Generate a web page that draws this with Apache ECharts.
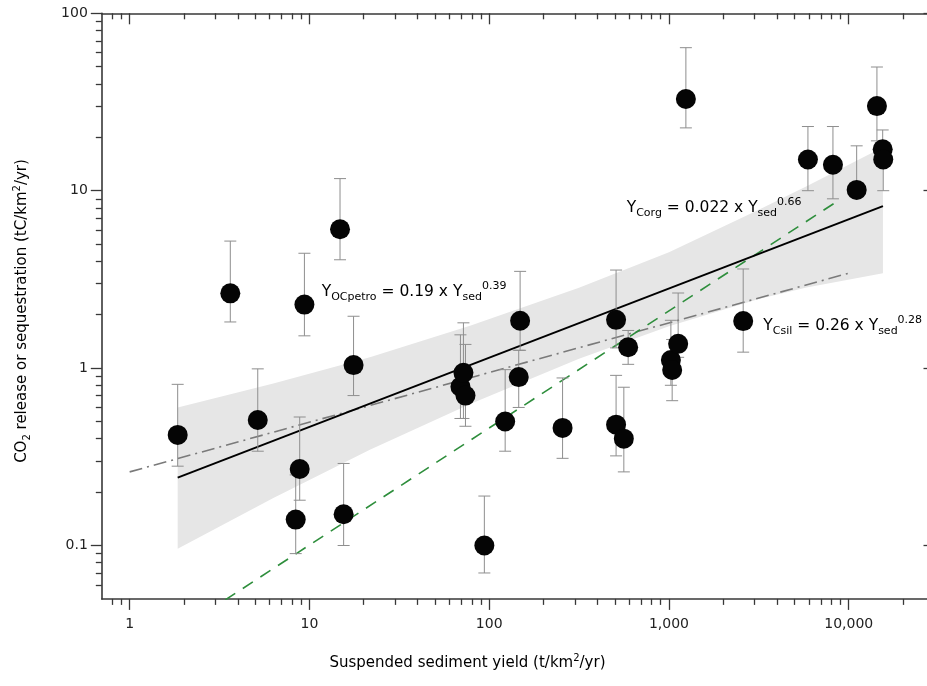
<!DOCTYPE html>
<html>
<head>
<meta charset="utf-8">
<title>CO2 release or sequestration vs suspended sediment yield</title>
<script src="https://cdn.jsdelivr.net/npm/echarts@6/dist/echarts.min.js"></script>
<style>
  html, body { margin: 0; padding: 0; background: #fff; }
  #chart { width: 927px; height: 686px; }
</style>
</head>
<body>
<div id="chart"></div>
<script>
// Catchments: suspended sediment yield (t/km2/yr) and CO2 flux (tC/km2/yr) with uncertainty range
const sedimentYield = [1.85, 3.63, 5.16, 8.39, 8.83, 9.38, 14.8, 15.5, 17.6, 69.2, 71.9, 73.8, 94, 122.7, 146, 148.6,
  256, 508, 508, 561, 593, 1025, 1042, 1125, 1242, 2588, 5930, 8170, 11070, 14350, 15450, 15560];
const co2Flux = [0.42, 2.64, 0.51, 0.14, 0.27, 2.28, 6.06, 0.15, 1.04, 0.785, 0.94, 0.70, 0.10, 0.50, 0.89, 1.85,
  0.46, 0.48, 1.87, 0.40, 1.31, 1.11, 0.975, 1.37, 32.9, 1.84, 15.0, 14.0, 10.1, 30.0, 17.1, 15.0];
const co2Low = [0.28, 1.82, 0.34, 0.09, 0.18, 1.52, 4.08, 0.10, 0.70, 0.52, 0.52, 0.47, 0.07, 0.34, 0.60, 1.26,
  0.31, 0.32, 1.30, 0.26, 1.05, 0.80, 0.655, 1.15, 22.6, 1.23, 10.0, 9.0, 9.2, 19.1, 14.0, 10.0];
const co2High = [0.81, 5.2, 0.99, 0.25, 0.53, 4.44, 11.7, 0.29, 1.96, 1.54, 1.80, 1.36, 0.19, 0.98, 1.26, 3.51,
  0.88, 0.91, 3.57, 0.78, 1.63, 1.86, 1.45, 2.65, 64, 3.62, 23, 23, 17.9, 49.8, 22.0, 17.5];

// Confidence band of the OCpetro power-law fit
const bandX = [1.85, 6.3, 21.7, 79, 316, 1000, 3160, 5830, 15500];
const bandLow = [0.096, 0.185, 0.347, 0.63, 1.13, 1.72, 2.45, 2.85, 3.42];
const bandHigh = [0.60, 0.82, 1.15, 1.74, 2.84, 4.5, 7.8, 10.6, 17.6];

// Power-law fits Y = a * Ysed^b and the sediment-yield span each one is drawn over
const fitNames = ['OCpetro', 'Corg', 'Csil'];
const fitCoef = [0.19, 0.022, 0.26];
const fitExp = [0.39, 0.66, 0.28];
const fitFrom = [1.85, 3.4, 1];
const fitTo = [15500, 9000, 10000];

// Axis ticks and labels
const xTickLabels = [1, 10, 100, 1000, 10000];
const xMinorTicks = [0.8, 0.9, 2, 3, 4, 5, 6, 7, 8, 9, 20, 30, 40, 50, 60, 70, 80, 90,
  200, 300, 400, 500, 600, 700, 800, 900, 2000, 3000, 4000, 5000, 6000, 7000, 8000, 9000, 20000];
const yTickLabels = [0.1, 1, 10, 100];
const yMinorTicks = [0.06, 0.07, 0.08, 0.09, 0.2, 0.3, 0.4, 0.5, 0.6, 0.7, 0.8, 0.9,
  2, 3, 4, 5, 6, 7, 8, 9, 20, 30, 40, 50, 60, 70, 80, 90];

const FONT = 'DejaVu Sans';
const AXIS_COLOR = '#383838';
const X_RANGE = [0.7, 30000];
const Y_RANGE = [0.05, 100];

function fitLine(i) {
  const a = fitCoef[i], b = fitExp[i];
  return [[fitFrom[i], a * Math.pow(fitFrom[i], b)], [fitTo[i], a * Math.pow(fitTo[i], b)]];
}

function fitLabel(i) {
  return '{m|Y}{s|' + fitNames[i] + '}{m| = ' + fitCoef[i] + ' x Y}{s|sed}{p|' + fitExp[i].toFixed(2) + '}';
}

function richFor(color) {
  return {
    m: { fontFamily: FONT, fontSize: 15.5, color: color, lineHeight: 22 },
    s: { fontFamily: FONT, fontSize: 11, color: color, lineHeight: 14, verticalAlign: 'bottom' },
    p: { fontFamily: FONT, fontSize: 11, color: color, lineHeight: 12, verticalAlign: 'top' }
  };
}

function makeXAxis(position, ticks, major, inside, showLine, showLabels) {
  return {
    type: 'log', logBase: 10, position: position,
    min: X_RANGE[0], max: X_RANGE[1],
    axisLine: { show: showLine, onZero: false, lineStyle: { color: AXIS_COLOR, width: 1.6 } },
    axisTick: { show: true, inside: inside, length: major ? 11 : 6, customValues: ticks,
      lineStyle: { color: AXIS_COLOR, width: 1.3 } },
    axisLabel: { show: showLabels, customValues: xTickLabels, margin: 18,
      fontFamily: FONT, fontSize: 14, color: '#222',
      formatter: v => Number(v).toLocaleString('en-US') },
    splitLine: { show: false }, minorTick: { show: false }, minorSplitLine: { show: false }
  };
}

function makeYAxis(position, ticks, major, inside, showLine, showLabels) {
  return {
    type: 'log', logBase: 10, position: position,
    min: Y_RANGE[0], max: Y_RANGE[1],
    axisLine: { show: showLine, onZero: false, lineStyle: { color: AXIS_COLOR, width: 1.6 } },
    axisTick: { show: true, inside: inside, length: major ? 11 : 6, customValues: ticks,
      lineStyle: { color: AXIS_COLOR, width: 1.3 } },
    axisLabel: { show: showLabels, customValues: yTickLabels, margin: 14,
      fontFamily: FONT, fontSize: 14, color: '#222',
      formatter: v => String(Number(v)) },
    splitLine: { show: false }, minorTick: { show: false }, minorSplitLine: { show: false }
  };
}

const chart = echarts.init(document.getElementById('chart'), null, { renderer: 'canvas' });

const option = {
  animation: false,
  backgroundColor: '#ffffff',
  grid: { left: 101.8, top: 13.3, width: 832.7, height: 585.6, containLabel: false, outerBoundsMode: 'none' },
  xAxis: [
    makeXAxis('bottom', xTickLabels, true, false, true, true),
    makeXAxis('bottom', xMinorTicks, false, false, false, false),
    makeXAxis('top', xTickLabels, true, true, true, false),
    makeXAxis('top', xMinorTicks, false, true, false, false)
  ],
  yAxis: [
    makeYAxis('left', yTickLabels, true, false, true, true),
    makeYAxis('left', yMinorTicks, false, false, false, false),
    makeYAxis('right', yTickLabels, true, true, true, false),
    makeYAxis('right', yMinorTicks, false, true, false, false)
  ],
  series: [
    {
      // shaded confidence band around the OCpetro fit
      type: 'custom', name: 'band', z: 1, silent: true,
      data: bandX.map((x, i) => [x, bandLow[i], bandHigh[i]]),
      encode: { x: 0, y: [1, 2] },
      renderItem: function (params, api) {
        if (params.dataIndex !== 0) return null;
        const pts = [];
        for (let i = 0; i < bandX.length; i++) pts.push(api.coord([bandX[i], bandHigh[i]]));
        for (let i = bandX.length - 1; i >= 0; i--) pts.push(api.coord([bandX[i], bandLow[i]]));
        return { type: 'polygon', shape: { points: pts }, style: { fill: '#e6e6e6' } };
      }
    },
    {
      type: 'line', name: 'Csil', z: 2, data: fitLine(2), showSymbol: false, silent: true,
      lineStyle: { color: '#7a7a7a', width: 1.6, type: [13, 5, 2, 5] }
    },
    {
      type: 'line', name: 'Corg', z: 2, data: fitLine(1), showSymbol: false, silent: true,
      lineStyle: { color: '#2e8e3c', width: 1.6, type: [12, 9] }
    },
    {
      type: 'line', name: 'OCpetro', z: 2, data: fitLine(0), showSymbol: false, silent: true,
      lineStyle: { color: '#000000', width: 2 }
    },
    {
      // vertical uncertainty bars with end caps
      type: 'custom', name: 'range', z: 3, silent: true,
      data: sedimentYield.map((x, i) => [x, co2Low[i], co2High[i]]),
      encode: { x: 0, y: [1, 2] },
      renderItem: function (params, api) {
        const x = api.value(0);
        const lo = api.coord([x, api.value(1)]);
        const hi = api.coord([x, api.value(2)]);
        const w = 6;
        const style = { stroke: '#8e8e8e', lineWidth: 1 };
        return {
          type: 'group',
          children: [
            { type: 'line', shape: { x1: lo[0], y1: lo[1], x2: hi[0], y2: hi[1] }, style: style },
            { type: 'line', shape: { x1: lo[0] - w, y1: lo[1], x2: lo[0] + w, y2: lo[1] }, style: style },
            { type: 'line', shape: { x1: hi[0] - w, y1: hi[1], x2: hi[0] + w, y2: hi[1] }, style: style }
          ]
        };
      }
    },
    {
      type: 'scatter', name: 'catchments', z: 4, symbol: 'circle', symbolSize: 20,
      data: sedimentYield.map((x, i) => [x, co2Flux[i]]),
      itemStyle: { color: '#050505', opacity: 1 }
    }
  ],
  graphic: [
    { type: 'text', x: 321.7, y: 280.5, z: 10,
      style: { text: fitLabel(0), rich: richFor('#1a1a1a'), verticalAlign: 'top', align: 'left' } },
    { type: 'text', x: 626.7, y: 196.5, z: 10,
      style: { text: fitLabel(1), rich: richFor('#2e8e3c'), verticalAlign: 'top', align: 'left' } },
    { type: 'text', x: 763.3, y: 314.5, z: 10,
      style: { text: fitLabel(2), rich: richFor('#8a8a8a'), verticalAlign: 'top', align: 'left' } },
    { type: 'text', x: 467.5, y: 663, z: 10,
      style: {
        text: '{t|Suspended sediment yield (t/km}{p|2}{t|/yr)}',
        align: 'center', verticalAlign: 'middle',
        rich: {
          t: { fontFamily: FONT, fontSize: 15, color: '#222', lineHeight: 20 },
          p: { fontFamily: FONT, fontSize: 10, color: '#222', lineHeight: 13, verticalAlign: 'top' }
        }
      } },
    { type: 'text', x: 22, y: 311, z: 10, rotation: Math.PI / 2,
      style: {
        text: '{t|CO}{s|2}{t| release or sequestration (tC/km}{p|2}{t|/yr)}',
        align: 'center', verticalAlign: 'middle',
        rich: {
          t: { fontFamily: FONT, fontSize: 15, color: '#222', lineHeight: 20 },
          s: { fontFamily: FONT, fontSize: 10, color: '#222', lineHeight: 12, verticalAlign: 'bottom' },
          p: { fontFamily: FONT, fontSize: 10, color: '#222', lineHeight: 13, verticalAlign: 'top' }
        }
      } }
  ]
};

chart.setOption(option);
</script>
</body>
</html>
